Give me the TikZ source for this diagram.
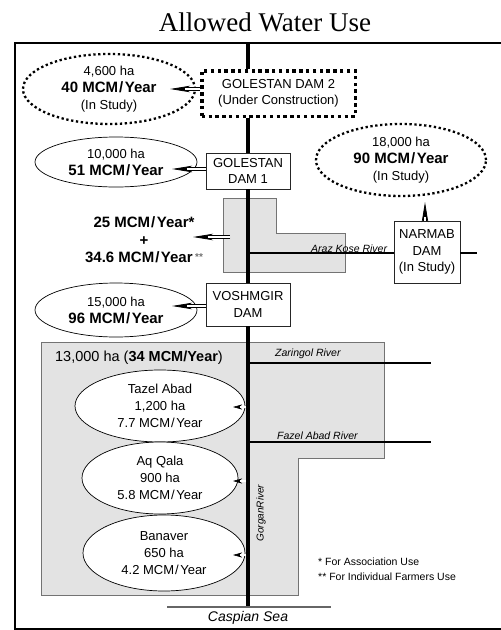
\documentclass[tikz,border=0pt]{standalone}
\usepackage{fontspec}
\setmainfont{Liberation Sans}
\newfontfamily\serifttl{Liberation Serif}
\usetikzlibrary{shapes.geometric,arrows.meta}

\newcommand\mcm{MCM\kern1pt/\kern1.5pt Year}
\newcommand\bmy[1]{{\bfseries\fontsize{15}{17}\selectfont #1 \mcm}}
\newcommand\dblarrow[3][big]{%
  \draw[#1tip] (#2) -- (#3);
  \draw[#1shaft] (#2) -- (#3);}

\tikzset{
  frame/.style={line width=2pt},
  river/.style={line width=4.5pt},
  trib/.style={line width=2pt},
  damb/.style={rectangle, draw=black!85, line width=0.8pt, fill=white, inner sep=0pt,
    align=center, font=\fontsize{13}{16.5}\selectfont},
  dotbox/.style={damb, draw=black, line width=3.5pt, dash pattern=on 3.5pt off 3.3pt},
  ell/.style={ellipse, draw, line width=0.7pt, fill=white, inner sep=0pt,
    align=center, font=\fontsize{13}{17}\selectfont},
  dotell/.style={ell, line width=2.3pt, dash pattern=on 2.3pt off 2.6pt},
  shade/.style={fill=black!11, draw=black!55, line width=0.7pt},
  rlabel/.style={font=\itshape\fontsize{10.5}{12}\selectfont, inner sep=0pt},
  bigtip/.style={-{Stealth[length=20pt,width=6.5pt,inset=5pt]}, line width=0.8pt},
  bigshaft/.style={line width=0.8pt, double=white, double distance=2.2pt, shorten >=15pt},
  smalltip/.style={-{Stealth[length=9pt,width=5pt,inset=2.5pt]}, line width=0.6pt},
  smallshaft/.style={line width=0.6pt, double=white, double distance=1.4pt, shorten >=7pt},
}

\begin{document}
\begin{tikzpicture}[x=1pt,y=-1pt]
\useasboundingbox (0,0) rectangle (501,630);

\node[font=\serifttl\fontsize{27}{30}\selectfont] (title) at (265,22) {Allowed Water Use};

% outer frame (open to the right)
\draw[frame] (501,43) -- (15,43) -- (15,629) -- (501,629);

% shaded areas
\draw[shade] (223,198) -- (276,198) -- (276,233) -- (345,233) -- (345,272) -- (223,272) -- cycle;
\draw[shade] (41,342) -- (384,342) -- (384,458) -- (298,458) -- (298,595) -- (41,595) -- cycle;

% dams
\node[dotbox, minimum width=153.5, minimum height=45.5] (dam2) at (278.5,93.5) {GOLESTAN DAM 2\\(Under Construction)};
\node[damb, minimum width=84, minimum height=36] (dam1) at (248,171) {GOLESTAN\\DAM 1};
\node[damb, minimum width=84, minimum height=43] (vosh) at (248,304.5) {VOSHMGIR\\DAM};
\node[damb, minimum width=66, minimum height=62] (narmab) at (427,252) {NARMAB\\DAM\\(In Study)};

% main river
\coordinate (src) at (248,43);
\coordinate (mouth) at (248,607);
\draw[river] (src) -- (src |- dam2.north);
\draw[river] (src |- dam2.south) -- (dam1.north);
\draw[river] (dam1.south) -- (vosh.north);
\draw[river] (vosh.south) -- (mouth);

% tributaries
\coordinate (az) at (248,253);
\coordinate (azend) at (477,253);
\draw[trib] (az) -- (az -| narmab.west);
\draw[trib] (azend -| narmab.east) -- (azend);
\coordinate (z0) at (248,363);
\coordinate (z1) at (431,363);
\draw[trib] (z0) -- (z1);
\coordinate (f0) at (248,442);
\coordinate (f1) at (431,442);
\draw[trib] (f0) -- (f1);

\node[rlabel, anchor=base west] (azl) at (311,252) {Araz Kose River};
\node[rlabel, anchor=base west] (zl) at (275,356.5) {Zaringol River};
\node[rlabel, anchor=base west] (fl) at (277,439) {Fazel Abad River};
\node[rlabel, rotate=90, font=\itshape\fontsize{10}{12}\selectfont] (gl) at (261,513) {GorganRiver};

% ellipses
\node[dotell, minimum width=172, minimum height=70] (e1) at (109,89) {4,600 ha\\\bmy{40}\\(In Study)};
\node[ell, minimum width=162, minimum height=50] (e2) at (116,162) {10,000 ha\\\bmy{51}};
\node[dotell, minimum width=170, minimum height=72] (e3) at (401,160) {18,000 ha\\\bmy{90}\\(In Study)};
\node[ell, minimum width=162, minimum height=54] (e4) at (116,310) {15,000 ha\\\bmy{96}};
\node[ell, minimum width=170, minimum height=72] (tazel) at (160,406) {Tazel Abad\\1,200 ha\\7.7 \mcm};
\node[ell, minimum width=156, minimum height=72] (aq) at (160,478) {Aq Qala\\900 ha\\5.8 \mcm};
\node[ell, minimum width=162, minimum height=76] (ban) at (164,553) {Banaver\\650 ha\\4.2 \mcm};

% texts
\node[font=\fontsize{14.5}{17}\selectfont] (tot) at (139,358) {13,000 ha ({\bfseries 34 MCM/Year})};
\node[align=center, font=\bfseries\fontsize{15}{17.5}\selectfont] (extra) at (144,240)
  {25 \mcm*\\+\\34.6 \mcm\,\raisebox{2pt}{\fontsize{10}{10}\selectfont\color{black!55}**}};

% arrows
\coordinate (t1) at (170,89);
\coordinate (t2) at (172,169);
\coordinate (s3) at (230,237);
\coordinate (t3) at (193,237);
\coordinate (t4) at (172,306);
\coordinate (t5) at (425,202);
\dblarrow{dam2.west |- t1}{t1}
\dblarrow{dam1.west |- t2}{t2}
\dblarrow{s3}{t3}
\dblarrow{vosh.west |- t4}{t4}
\dblarrow{narmab.north -| t5}{t5}

\coordinate (r1) at (246,407);
\coordinate (u1) at (233,407);
\coordinate (r2) at (246,481);
\coordinate (u2) at (233,481);
\coordinate (r3) at (246,555);
\coordinate (u3) at (233,555);
\dblarrow[small]{r1}{u1}
\dblarrow[small]{r2}{u2}
\dblarrow[small]{r3}{u3}

% sea
\coordinate (c0) at (167,607);
\coordinate (c1) at (331,607);
\draw[black!60, line width=1.5pt] (c0) -- (c1);
\node[font=\itshape\fontsize{14}{16}\selectfont] (csl) at (248,618) {Caspian Sea};

% footnotes
\node[anchor=base west, inner sep=0pt, font=\fontsize{10.5}{13}\selectfont] (fn1) at (318,565) {* For Association Use};
\node[anchor=base west, inner sep=0pt, font=\fontsize{10.5}{13}\selectfont] (fn2) at (318,580) {** For Individual Farmers Use};
\end{tikzpicture}
\end{document}
